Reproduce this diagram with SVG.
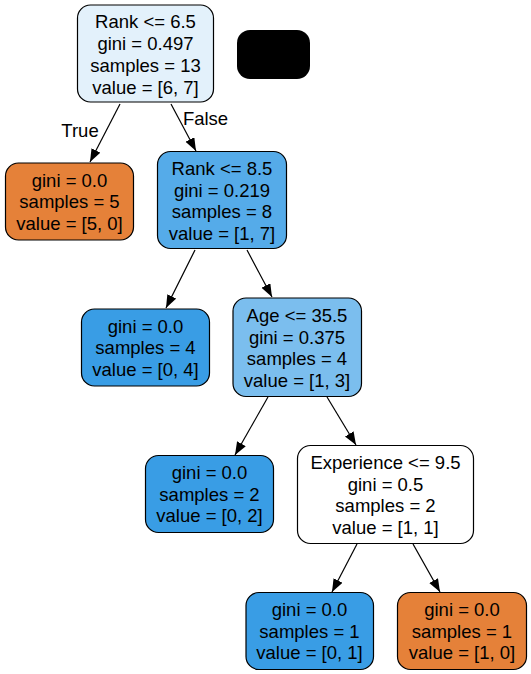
<svg xmlns="http://www.w3.org/2000/svg" width="531" height="674" viewBox="0 0 531 674">
<defs>
<style>
.n{stroke:#000;stroke-width:1.2}
text{font-family:"Liberation Sans",Arial,Helvetica,sans-serif;font-size:18.5px;fill:#000;text-anchor:middle}
.e{stroke:#000;stroke-width:1.2;fill:none}
</style>
<marker id="ah" markerUnits="userSpaceOnUse" markerWidth="14" markerHeight="11" refX="13" refY="5" orient="auto" viewBox="0 0 14 11">
<path d="M0,0 L13,5 L0,10 z" fill="#000"/>
</marker>
</defs>
<rect width="531" height="674" fill="#fff"/>
<g id="connectors">
<line class="e" x1="120" y1="104" x2="90" y2="162" marker-end="url(#ah)"/>
<line class="e" x1="171" y1="104" x2="196" y2="151" marker-end="url(#ah)"/>
<line class="e" x1="195" y1="250" x2="166" y2="308" marker-end="url(#ah)"/>
<line class="e" x1="247" y1="250" x2="272" y2="297" marker-end="url(#ah)"/>
<line class="e" x1="268" y1="397" x2="235" y2="455" marker-end="url(#ah)"/>
<line class="e" x1="327" y1="397" x2="356" y2="445" marker-end="url(#ah)"/>
<line class="e" x1="357" y1="544" x2="332" y2="592" marker-end="url(#ah)"/>
<line class="e" x1="413" y1="544" x2="440" y2="592" marker-end="url(#ah)"/>
<text x="80" y="137">True</text>
<text x="205.5" y="125">False</text>
</g>
<g id="node0">
<rect class="n" x="77.5" y="5" width="136" height="97" rx="13" fill="#e3f1fb"/>
<text x="145.5" y="28">Rank &lt;= 6.5</text>
<text x="145.5" y="50">gini = 0.497</text>
<text x="145.5" y="71.7">samples = 13</text>
<text x="145.5" y="93.5">value = [6, 7]</text>
</g>
<g id="legend">
<rect x="237" y="30" width="73" height="49" rx="13" fill="#000"/>
</g>
<g id="node1">
<rect class="n" x="5.5" y="163" width="128" height="77" rx="13" fill="#e58139"/>
<text x="69.5" y="186.5">gini = 0.0</text>
<text x="69.5" y="208">samples = 5</text>
<text x="69.5" y="229.5">value = [5, 0]</text>
</g>
<g id="node2">
<rect class="n" x="157.5" y="151.5" width="129" height="97" rx="13" fill="#55abe9"/>
<text x="222" y="174.5">Rank &lt;= 8.5</text>
<text x="222" y="196.5">gini = 0.219</text>
<text x="222" y="218.2">samples = 8</text>
<text x="222" y="240">value = [1, 7]</text>
</g>
<g id="node3">
<rect class="n" x="81.5" y="309" width="128" height="77" rx="13" fill="#399de5"/>
<text x="145.5" y="332.5">gini = 0.0</text>
<text x="145.5" y="354">samples = 4</text>
<text x="145.5" y="375.5">value = [0, 4]</text>
</g>
<g id="node4">
<rect class="n" x="233" y="298" width="128.5" height="98.5" rx="13" fill="#7bbeee"/>
<text x="297" y="321.5">Age &lt;= 35.5</text>
<text x="297" y="343.5">gini = 0.375</text>
<text x="297" y="365.2">samples = 4</text>
<text x="297" y="387">value = [1, 3]</text>
</g>
<g id="node5">
<rect class="n" x="145.5" y="455.5" width="128" height="77" rx="13" fill="#399de5"/>
<text x="209.5" y="479">gini = 0.0</text>
<text x="209.5" y="500.5">samples = 2</text>
<text x="209.5" y="522">value = [0, 2]</text>
</g>
<g id="node6">
<rect class="n" x="297.5" y="445.5" width="176" height="98" rx="13" fill="#ffffff"/>
<text x="385.5" y="469">Experience &lt;= 9.5</text>
<text x="385.5" y="490.5">gini = 0.5</text>
<text x="385.5" y="512">samples = 2</text>
<text x="385.5" y="533.5">value = [1, 1]</text>
</g>
<g id="node7">
<rect class="n" x="246" y="592.5" width="127.5" height="77" rx="13" fill="#399de5"/>
<text x="309.5" y="616">gini = 0.0</text>
<text x="309.5" y="637.5">samples = 1</text>
<text x="309.5" y="659">value = [0, 1]</text>
</g>
<g id="node8">
<rect class="n" x="397.5" y="592.5" width="129" height="77" rx="13" fill="#e58139"/>
<text x="462" y="616">gini = 0.0</text>
<text x="462" y="637.5">samples = 1</text>
<text x="462" y="659">value = [1, 0]</text>
</g>
</svg>
